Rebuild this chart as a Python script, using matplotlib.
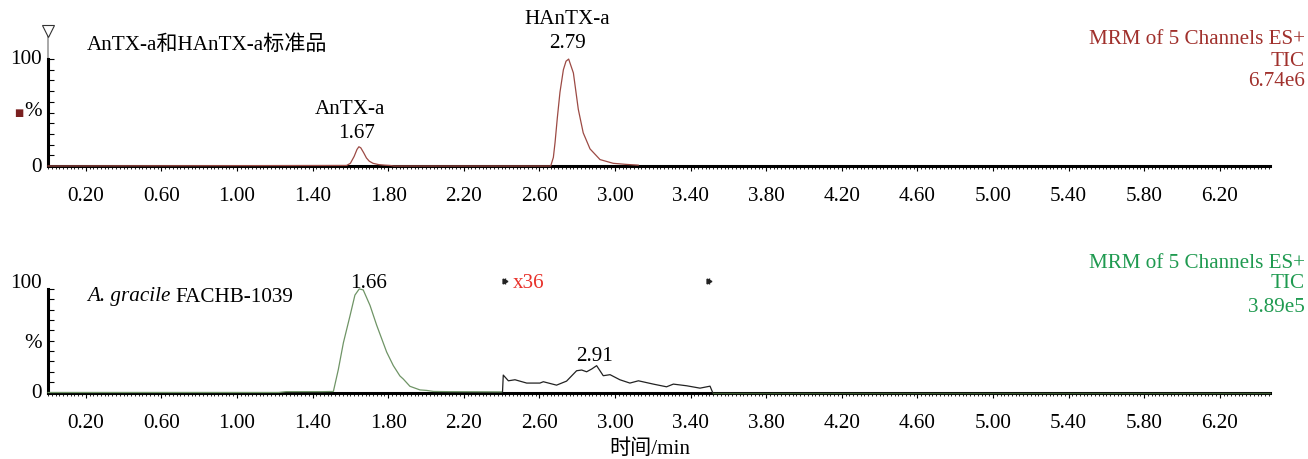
import matplotlib
matplotlib.use("Agg")
import matplotlib.pyplot as plt
import numpy as np
from matplotlib.ticker import MultipleLocator, FixedLocator

plt.rcParams['font.family'] = ['Liberation Serif', 'Noto Sans CJK SC', 'DejaVu Sans']

W, H = 1308, 460
FS = 15.2

# ---------------- data ----------------
xtick_vals = [0.20, 0.60, 1.00, 1.40, 1.80, 2.20, 2.60, 3.00, 3.40, 3.80, 4.20, 4.60, 5.00, 5.40, 5.80, 6.20]
xtick_labels = ["0.20", "0.60", "1.00", "1.40", "1.80", "2.20", "2.60", "3.00", "3.40", "3.80",
                "4.20", "4.60", "5.00", "5.40", "5.80", "6.20"]

# standard (top) trace, intensity in %
std_time = [0.00, 1.58, 1.60, 1.62, 1.635, 1.645, 1.655, 1.67, 1.685, 1.70, 1.72, 1.75, 1.78, 1.81, 1.83,
            2.66, 2.674, 2.683, 2.695, 2.709, 2.727, 2.741, 2.755, 2.780, 2.806, 2.832, 2.868, 2.921,
            2.991, 3.06, 3.123]
std_int = [0.0, 0.5, 2.5, 9.0, 15.5, 18.0, 17.0, 12.5, 7.5, 4.5, 2.5, 1.3, 0.8, 0.5, 0.0,
           0.0, 8.0, 22.0, 45.0, 69.0, 90.0, 98.0, 100.0, 87.0, 53.0, 31.0, 16.0, 6.0,
           2.5, 1.5, 0.8]

# sample (bottom) trace, green part, intensity in %
smp_time = [0.00, 1.22, 1.26, 1.45, 1.51, 1.536, 1.563, 1.598, 1.624, 1.647, 1.668, 1.704, 1.739,
            1.792, 1.827, 1.862, 1.88, 1.915, 1.968, 2.004, 2.04, 2.127, 2.40]
smp_int = [0.0, 0.0, 0.8, 0.8, 1.0, 22.0, 48.0, 74.0, 94.0, 100.0, 99.0, 84.0, 65.0,
           39.0, 26.0, 16.0, 13.0, 6.0, 2.5, 2.0, 1.0, 0.8, 0.6]

# sample x36 magnified segment (black)
mag_time = [2.405, 2.409, 2.436, 2.471, 2.533, 2.603, 2.621, 2.691, 2.744, 2.797, 2.824, 2.850, 2.877,
            2.903, 2.938, 2.974, 3.026, 3.079, 3.124, 3.203, 3.273, 3.309, 3.379, 3.450, 3.503, 3.517]
mag_int = [0.6, 16.8, 11.3, 12.3, 9.1, 9.1, 10.4, 7.1, 11.0, 21.0, 21.7, 20.0, 22.7,
           25.9, 16.2, 17.2, 12.3, 9.1, 11.3, 8.1, 5.5, 8.1, 6.5, 4.2, 6.1, 0.0]

tail_time = [3.517, 6.466]
tail_int = [0.0, 0.0]

XMAX = 6.466
red_line = '#9c4a44'
red_txt = '#a0302c'
green_line = '#6f9466'
green_txt = '#1f9a50'

fig = plt.figure(figsize=(W / 100, H / 100), dpi=100)

def px(x, y):
    return x / W, 1 - y / H

def make_axes(y0_px, top_px, ymax):
    left = 48 / W
    width = (1270 - 48) / W
    bottom = 1 - y0_px / H
    height = (y0_px - top_px) / H
    ax = fig.add_axes([left, bottom, width, height])
    ax.set_xlim(0, XMAX)
    ax.set_ylim(0, ymax)
    for s in ['top', 'right']:
        ax.spines[s].set_visible(False)
    ax.spines['bottom'].set_linewidth(2.2)
    ax.spines['left'].set_linewidth(2.2)
    ax.spines['left'].set_bounds(0, 100)
    ax.xaxis.set_major_locator(FixedLocator(xtick_vals))
    ax.set_xticklabels(xtick_labels)
    ax.xaxis.set_minor_locator(MultipleLocator(0.02))
    ax.tick_params(axis='x', which='major', direction='out', length=3.5, width=0.8, pad=11,
                   labelsize=FS)
    ax.tick_params(axis='x', which='minor', direction='out', length=2.5, width=0.6)
    ax.yaxis.set_major_locator(FixedLocator(np.arange(0, 101, 10)))
    ax.set_yticklabels([])
    ax.tick_params(axis='y', which='major', direction='in', length=4, width=0.8, labelleft=False)
    return ax

# ---------------- top panel ----------------
ax1 = make_axes(167, 28, 130)
ax1.plot(std_time, std_int, color=red_line, lw=0.9, clip_on=False, zorder=3)
ax1.plot([0, 0], [100, 124], color='#999999', lw=1.2, clip_on=False)
ax1.plot([0], [126], marker='v', markersize=9, markerfacecolor='white', markeredgecolor='#333333',
         markeredgewidth=0.8, clip_on=False)

fig.text(*px(42, 60), "100", ha='right', va='center', fontsize=FS)
fig.text(*px(42, 167), "0", ha='right', va='center', fontsize=FS)
fig.text(*px(42, 112), "%", ha='right', va='center', fontsize=FS)
fig.text(*px(19, 113), "■", ha='center', va='center', fontsize=7, color='#7a2020',
         family=['DejaVu Sans'])
fig.text(*px(87, 45), "AnTX-a和HAnTX-a标准品", ha='left', va='center', fontsize=FS)
fig.text(*px(350, 110), "AnTX-a", ha='center', va='center', fontsize=FS)
fig.text(*px(357, 134), "1.67", ha='center', va='center', fontsize=FS)
fig.text(*px(567, 19), "HAnTX-a", ha='center', va='center', fontsize=FS)
fig.text(*px(567, 44), "2.79", ha='center', va='center', fontsize=FS)
fig.text(*px(1305, 40), "MRM of 5 Channels ES+", ha='right', va='center', fontsize=FS, color=red_txt)
fig.text(*px(1305, 62), "TIC", ha='right', va='center', fontsize=FS, color=red_txt)
fig.text(*px(1305, 82), "6.74e6", ha='right', va='center', fontsize=FS, color=red_txt)

# ---------------- bottom panel ----------------
ax2 = make_axes(393.5, 264, 125)
ax2.plot(smp_time, smp_int, color=green_line, lw=0.9, clip_on=False, zorder=3)
ax2.plot(mag_time, mag_int, color='#222222', lw=0.9, clip_on=False, zorder=3)
ax2.plot(tail_time, tail_int, color='#3d5a32', lw=1.0, clip_on=False, zorder=3)

# x36 markers
for t in [2.418, 3.50]:
    ax2.plot([t], [107.5], marker='>', markersize=3.5, color='#222222', clip_on=False)
    ax2.plot([t], [107.5], marker='|', markersize=5, color='#222222', mew=1, clip_on=False)

fig.text(*px(42, 284), "100", ha='right', va='center', fontsize=FS)
fig.text(*px(42, 394), "0", ha='right', va='center', fontsize=FS)
fig.text(*px(42, 344), "%", ha='right', va='center', fontsize=FS)
t_it = fig.text(*px(87, 297), "A. gracile", ha='left', va='center', fontsize=FS, style='italic')
renderer = fig.canvas.get_renderer()
bb = t_it.get_window_extent(renderer)
x_end = bb.x1 + 5
fig.text(x_end / W, 1 - 297 / H, "FACHB-1039", ha='left', va='center', fontsize=FS)
fig.text(*px(369, 284), "1.66", ha='center', va='center', fontsize=FS)
fig.text(*px(595, 357), "2.91", ha='center', va='center', fontsize=FS)
fig.text(*px(513, 284), "x36", ha='left', va='center', fontsize=FS, color='#e8312a')
fig.text(*px(1305, 263), "MRM of 5 Channels ES+", ha='right', va='center', fontsize=FS, color=green_txt)
fig.text(*px(1305, 284), "TIC", ha='right', va='center', fontsize=FS, color=green_txt)
fig.text(*px(1305, 307), "3.89e5", ha='right', va='center', fontsize=FS, color=green_txt)

fig.text(*px(650, 449), "时间/min", ha='center', va='center', fontsize=FS)

fig.savefig("out.png", dpi=100)
